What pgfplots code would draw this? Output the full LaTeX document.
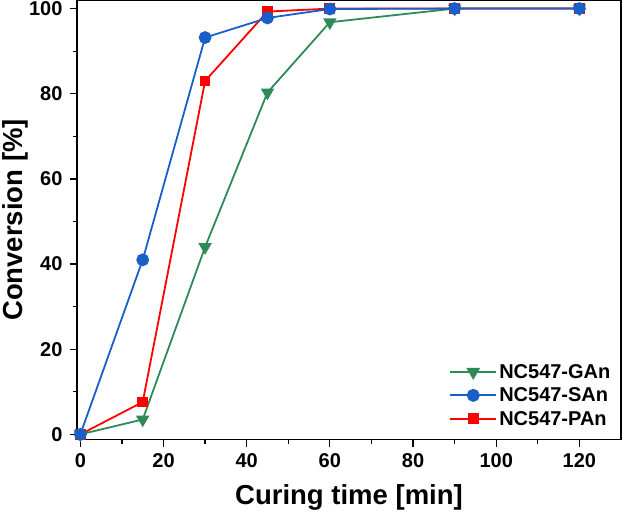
\documentclass[border=0pt]{standalone}
\usepackage{fontspec}
\setmainfont{Liberation Sans}
\usepackage{pgfplots}
\pgfplotsset{compat=1.18}
\definecolor{cG}{RGB}{46,139,87}
\definecolor{cS}{RGB}{24,96,200}
\definecolor{cP}{RGB}{255,0,0}
\begin{document}
\begin{tikzpicture}
\begin{axis}[
  scale only axis,
  width=544bp, height=439bp,
  xmin=-0.8, xmax=130, ymin=-1.2, ymax=101.9,
  xtick={0,20,...,120}, ytick={0,20,...,100},
  minor x tick num=1, minor y tick num=1,
  tick align=outside,
  xtick pos=bottom, ytick pos=left,
  major tick length=7bp, minor tick length=4bp,
  every tick/.style={black, line width=1.2bp},
  axis line style={line width=1.6bp},
  tick label style={font=\fontsize{20bp}{24bp}\selectfont\bfseries},
  /pgf/number format/assume math mode=true,
  xticklabel style={yshift=-4bp},
  yticklabel style={xshift=-4bp},
  xlabel={Curing time [min]},
  ylabel={Conversion [\%]},
  label style={font=\fontsize{27.5bp}{32bp}\selectfont\bfseries},
  xlabel style={at={(axis description cs:0.5,-0.132)}, anchor=center},
  ylabel style={at={(axis description cs:-0.114,0.5)}, anchor=center},
  clip=false,
  legend style={draw=none, fill=none, at={(0.99,0.02)}, anchor=south east,
    font=\fontsize{20bp}{24bp}\selectfont\bfseries, row sep=4bp},
  legend cell align=left,
  legend image code/.code={\draw[line width=2bp, mark repeat=2,mark phase=2] plot coordinates {(0bp,0bp) (23bp,0bp) (46bp,0bp)};},
]
\addlegendimage{cG, mark=triangle*, mark options={rotate=180}, mark size=6bp}
\addlegendentry{NC547-GAn}
\addlegendimage{cS, mark=*, mark size=5.5bp}
\addlegendentry{NC547-SAn}
\addlegendimage{cP, mark=square*, mark size=4.5bp}
\addlegendentry{NC547-PAn}
\addplot[cG, line width=1.8bp, mark=triangle*, mark options={rotate=180}, mark size=6bp, forget plot] coordinates {
(0,0) (15,3.5) (30,44) (45,80.3) (60,96.8) (90,100) (120,100)};
\addplot[cP, line width=1.8bp, mark=square*, mark size=4.5bp, forget plot] coordinates {
(0,0) (15,7.6) (30,83) (45,99.3) (60,100) (90,100) (120,100)};
\addplot[cS, line width=1.8bp, mark=*, mark size=5.5bp, forget plot] coordinates {
(0,0) (15,41) (30,93.2) (45,97.8) (60,99.9) (90,100) (120,100)};
\end{axis}
\pgfresetboundingbox
\path[use as bounding box] (-77bp,-75bp) rectangle (545bp,439.5bp);
\end{tikzpicture}
\end{document}
